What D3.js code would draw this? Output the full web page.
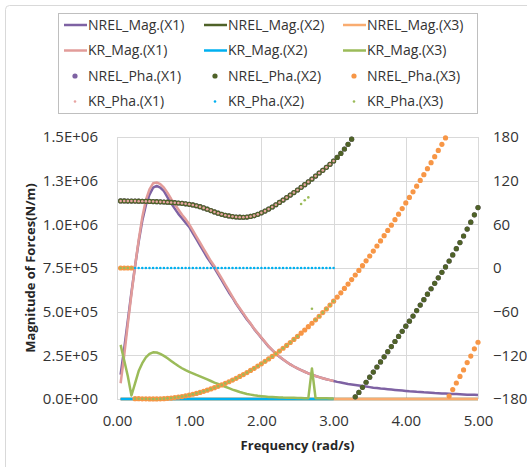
<!DOCTYPE html>
<html><head><meta charset="utf-8">
<script src="https://cdn.jsdelivr.net/npm/d3@7"></script>
<style>body{margin:0;background:#fff}svg{display:block;font-family:"Open Sans",sans-serif}</style>
</head><body><svg id="c" width="527" height="467"></svg>
<script>
// ---------- DATA ----------
const freq = [0.05,0.10,0.15,0.20,0.25,0.30,0.35,0.40,0.45,0.50,
0.55,0.60,0.65,0.70,0.75,0.80,0.85,0.90,0.95,1.00,
1.05,1.10,1.15,1.20,1.25,1.30,1.35,1.40,1.45,1.50,
1.55,1.60,1.65,1.70,1.75,1.80,1.85,1.90,1.95,2.00,
2.05,2.10,2.15,2.20,2.25,2.30,2.35,2.40,2.45,2.50,
2.55,2.60,2.65,2.70,2.75,2.80,2.85,2.90,2.95,3.00,
3.05,3.10,3.15,3.20,3.25,3.30,3.35,3.40,3.45,3.50,
3.55,3.60,3.65,3.70,3.75,3.80,3.85,3.90,3.95,4.00,
4.05,4.10,4.15,4.20,4.25,4.30,4.35,4.40,4.45,4.50,
4.55,4.60,4.65,4.70,4.75,4.80,4.85,4.90,4.95,5.00];

// magnitudes (N/m), left axis
const NREL_Mag_X1 = [1.4e5,2.9e5,4.5e5,6.1e5,7.6e5,9.0e5,10.2e5,11.1e5,11.7e5,12.1e5,
12.2e5,12.1e5,11.9e5,11.55e5,11.2e5,10.9e5,10.6e5,10.35e5,10.1e5,9.85e5,
9.5e5,9.15e5,8.8e5,8.45e5,8.1e5,7.8e5,7.5e5,7.15e5,6.8e5,6.45e5,
6.1e5,5.8e5,5.45e5,5.15e5,4.85e5,4.55e5,4.3e5,4.0e5,3.75e5,3.5e5,
3.25e5,3.0e5,2.8e5,2.6e5,2.42e5,2.26e5,2.12e5,1.98e5,1.86e5,1.75e5,
1.65e5,1.56e5,1.47e5,1.39e5,1.32e5,1.25e5,1.19e5,1.13e5,1.08e5,1.03e5,
0.98e5,0.94e5,0.90e5,0.86e5,0.83e5,0.80e5,0.77e5,0.74e5,0.71e5,0.68e5,
0.65e5,0.63e5,0.60e5,0.58e5,0.56e5,0.54e5,0.52e5,0.50e5,0.48e5,0.46e5,
0.44e5,0.43e5,0.41e5,0.40e5,0.38e5,0.37e5,0.36e5,0.34e5,0.33e5,0.32e5,
0.31e5,0.30e5,0.29e5,0.28e5,0.27e5,0.26e5,0.25e5,0.245e5,0.24e5,0.23e5];
const NREL_Mag_X2 = [0,0,0,0,0,0,0,0,0,0, 0,0,0,0,0,0,0,0,0,0, 0,0,0,0,0,0,0,0,0,0, 0,0,0,0,0,0,0,0,0,0, 0,0,0,0,0,0,0,0,0,0,
0,0,0,0,0,0,0,0,0,0, 0,0,0,0,0,0,0,0,0,0, 0,0,0,0,0,0,0,0,0,0, 0,0,0,0,0,0,0,0,0,0, 0,0,0,0,0,0,0,0,0,0];
const NREL_Mag_X3 = [0,0,0,0,0,0,0,0,0,0, 0,0,0,0,0,0,0,0,0,0, 0,0,0,0,0,0,0,0,0,0, 0,0,0,0,0,0,0,0,0,0, 0,0,0,0,0,0,0,0,0,0,
0,0,0,0,0,0,0,0,0,0, 0,0,0,0,0,0,0,0,0,0, 0,0,0,0,0,0,0,0,0,0, 0,0,0,0,0,0,0,0,0,0, 0,0,0,0,0,0,0,0,0,0];
const KR_Mag_X1 = [0.9e5,2.5e5,4.3e5,6.0e5,7.6e5,9.1e5,10.4e5,11.4e5,12.0e5,12.35e5,
12.4e5,12.3e5,12.1e5,11.8e5,11.45e5,11.15e5,10.85e5,10.55e5,10.3e5,10.0e5,
9.65e5,9.3e5,8.95e5,8.6e5,8.25e5,7.9e5,7.6e5,7.25e5,6.9e5,6.55e5,
6.2e5,5.85e5,5.5e5,5.2e5,4.9e5,4.6e5,4.32e5,4.02e5,3.77e5,3.52e5,
3.27e5,3.02e5,2.81e5,2.61e5,2.43e5,2.27e5,2.12e5,1.98e5,1.86e5,1.75e5,
1.65e5,1.56e5,1.47e5,1.39e5,1.32e5,1.25e5,1.19e5,1.13e5,1.08e5,1.03e5];
const KR_Mag_X2 = [0,0,0,0,0,0,0,0,0,0, 0,0,0,0,0,0,0,0,0,0, 0,0,0,0,0,0,0,0,0,0, 0,0,0,0,0,0,0,0,0,0, 0,0,0,0,0,0,0,0,0,0, 0,0,0,0,0,0,0,0,0,0];
const KR_Mag_X3 = [3.1e5,2.2e5,1.3e5,0.2e5,0.9e5,1.6e5,2.05e5,2.38e5,2.58e5,2.67e5,
2.66e5,2.58e5,2.47e5,2.33e5,2.18e5,2.03e5,1.89e5,1.76e5,1.65e5,1.55e5,
1.47e5,1.38e5,1.30e5,1.21e5,1.12e5,1.03e5,0.94e5,0.86e5,0.78e5,0.70e5,
0.62e5,0.54e5,0.47e5,0.40e5,0.34e5,0.29e5,0.25e5,0.21e5,0.18e5,0.16e5,
0.14e5,0.12e5,0.11e5,0.10e5,0.09e5,0.08e5,0.075e5,0.07e5,0.065e5,0.06e5,
0.055e5,0.05e5,0.05e5,1.75e5,0.05e5,0.045e5,0.04e5,0.04e5,0.035e5,0.035e5];

// phases (deg), right axis
const NREL_Pha_X2 = [92.1,92.1,92.0,92.0,91.9,91.8,91.7,91.6,91.5,91.3,
91.1,90.9,90.7,90.4,90.1,89.7,89.3,88.8,88.2,87.5,
86.6,85.5,84.2,82.6,80.8,78.9,77.0,75.3,73.8,72.5,
71.5,70.7,70.1,69.8,69.7,70.0,70.8,72.0,73.7,75.8,
78.2,80.9,83.8,86.9,90.1,93.4,96.8,100.2,103.7,107.2,
110.8,114.5,118.3,122.2,126.3,130.5,134.2,138.3,142.5,147.0,
152.0,157.5,163.5,170.0,177.0,-177.0,-171.0,-164.0,-157.0,-150.0,
-143,-136,-129,-122,-115,-108,-101,-94,-87,-80,
-73,-66,-58.5,-51,-43.5,-36,-28.5,-21,-13.5,-6,
1.5,9.5,18,26.5,35,44,53.5,63,73,83];
const NREL_Pha_X1 = [92.1,92.1,92.0,92.0,91.9,91.8,91.7,91.6,91.5,91.3,
91.1,90.9,90.7,90.4,90.1,89.7,89.3,88.8,88.2,87.5,
86.6,85.5,84.2,82.6,80.8,78.9,77.0,75.3,73.8,72.5,
71.5,70.7,70.1,69.8,69.7,70.0,70.8,72.0,73.7,75.8,
78.2,80.9,83.8,86.9,90.1,93.4,96.8,100.2,103.7,107.2,
110.8,114.5,118.3,122.2,126.3,130.5,134.2,138.3,142.5,147.0,
152.0,157.5,163.5,170.0,177.0,-177.0,-171.0,-164.0,-157.0,-150.0,
-143,-136,-129,-122,-115,-108,-101,-94,-87,-80,
-73,-66,-58.5,-51,-43.5,-36,-28.5,-21,-13.5,-6,
1.5,9.5,18,26.5,35,44,53.5,63,73,83];
const NREL_Pha_X3 = [0,0,0,0,-179.5,-179.6,-179.7,-179.8,-179.9,-179.9,
-179.9,-179.8,-179.5,-179.1,-178.7,-178.1,-177.4,-176.6,-175.6,-174.6,
-173.5,-172.3,-170.9,-169.5,-167.9,-166.2,-164.5,-162.6,-160.6,-158.5,
-156.3,-154.0,-151.6,-149.0,-146.4,-143.7,-140.8,-137.9,-134.8,-131.6,
-128.3,-125.0,-121.5,-117.9,-114.2,-110.3,-106.4,-102.4,-98.2,-94.0,
-89.6,-85.2,-80.6,-75.9,-71.2,-66.3,-61.3,-56.2,-50.9,-45.6,
-39.9,-34.1,-28.1,-22.1,-15.9,-9.6,-3.3,3.2,9.8,16.5,
23.3,30.2,37.2,44.4,51.6,58.9,66.4,73.9,81.6,89.4,
97.0,104.6,112.4,120.3,128.3,136.5,144.7,153.0,161.5,170.0,
178.7,-176,-167,-158,-149,-140,-130,-121,-111,-102];
const KR_Pha_X1 = [92.1,92.1,92.0,92.0,91.9,91.8,91.7,91.6,91.5,91.3,
91.1,90.9,90.7,90.4,90.1,89.7,89.3,88.8,88.2,87.5,
86.6,85.5,84.2,82.6,80.8,78.9,77.0,75.3,73.8,72.5,
71.5,70.7,70.1,69.8,69.7,70.0,70.8,72.0,73.7,75.8,
78.2,80.9,83.8,86.9,90.1,93.4,96.8,100.2,103.7,107.2,
110.8,114.5,118.3,122.2,126.3,130.5,134.2,138.3,142.5,147.0];
const KR_Pha_X2 = [null,null,null,null,0,0,0,0,0,0, 0,0,0,0,0,0,0,0,0,0, 0,0,0,0,0,0,0,0,0,0, 0,0,0,0,0,0,0,0,0,0, 0,0,0,0,0,0,0,0,0,0, 0,0,0,0,0,0,0,0,0,0];
const KR_Pha_X3 = [0,0,0,0,-179.5,-179.6,-179.7,-179.8,-179.9,-179.9,
-179.9,-179.8,-179.5,-179.1,-178.7,-178.1,-177.4,-176.6,-175.6,-174.6,
-173.5,-172.3,-170.9,-169.5,-167.9,-166.2,-164.5,-162.6,-160.6,-158.5,
-156.3,-154.0,-151.6,-149.0,-146.4,-143.7,-140.8,-137.9,-134.8,-131.6,
-128.3,-125.0,-121.5,-117.9,-114.2,-110.3,-106.4,-102.4,-98.2,-94.0,
88,93,97,-56,-71.2,-66.3,-61.3,-56.2,-50.9,-45.6];

const xTicks = [0,1,2,3,4,5];
const yLeftTicks = [0,2.5e5,5e5,7.5e5,1e6,1.25e6,1.5e6];
const yRightTicks = [-180,-120,-60,0,60,120,180];

// ---------- CHART ----------
const svg = d3.select("#c");
const x = d3.scaleLinear().domain([0,5]).range([117,478]);
const yL = d3.scaleLinear().domain([0,1.5e6]).range([399,137]);
const yR = d3.scaleLinear().domain([-180,180]).range([399,137]);

// outer frame
svg.append("rect").attr("x",5.5).attr("y",5.5).attr("width",540).attr("height",480)
  .attr("rx",4).attr("fill","#fff").attr("stroke","#d9d9d9");

// gridlines
const grid = svg.append("g").attr("stroke","#d9d9d9").attr("stroke-width",1);
yLeftTicks.forEach(t=>grid.append("line").attr("x1",117).attr("x2",478)
  .attr("y1",Math.round(yL(t))+0.5).attr("y2",Math.round(yL(t))+0.5));
xTicks.forEach(t=>grid.append("line").attr("y1",137).attr("y2",399)
  .attr("x1",Math.round(x(t))+0.5).attr("x2",Math.round(x(t))+0.5));

function sciFmt(v){
  if(v===0) return "0.0E+00";
  const e = Math.floor(Math.log10(v));
  const m = v/Math.pow(10,e);
  return m.toFixed(1)+"E+"+String(e).padStart(2,"0");
}
const tickStyle = g=>{g.select(".domain").remove();
  g.selectAll("text").attr("fill","#333").style("font-size","15px").style("font-family","'Open Sans',sans-serif");};
svg.append("g").attr("transform","translate(117,0)")
  .call(d3.axisLeft(yL).tickValues(yLeftTicks).tickFormat(sciFmt).tickSize(0).tickPadding(19)).call(tickStyle);
svg.append("g").attr("transform","translate(478,0)")
  .call(d3.axisRight(yR).tickValues(yRightTicks).tickFormat(d3.format("d")).tickSize(0).tickPadding(15)).call(tickStyle);
svg.append("g").attr("transform","translate(0,399)")
  .call(d3.axisBottom(x).tickValues(xTicks).tickFormat(d3.format(".2f")).tickSize(0).tickPadding(16)).call(tickStyle);

// axis titles
svg.append("text").attr("transform","translate(30,268) rotate(-90)").attr("text-anchor","middle")
  .attr("dy","0.35em").attr("fill","#262626").style("font-size","13px").style("font-weight","bold")
  .text("Magnitude of Forces(N/m)");
svg.append("text").attr("x",297.5).attr("y",445).attr("text-anchor","middle")
  .attr("dy","0.35em").attr("fill","#262626").style("font-size","13px").style("font-weight","bold")
  .text("Frequency (rad/s)");

// series definitions
const C = {purple:"#7E62A3", dgreen:"#4F6228", orange:"#F79646", orangeL:"#F9AC70",
           pink:"#E29C9A", blue:"#00B0F0", green:"#9BBB59"};
const lineSeries = [
  {name:"NREL_Mag.(X1)", data:NREL_Mag_X1, color:C.purple},
  {name:"NREL_Mag.(X2)", data:NREL_Mag_X2, color:C.dgreen},
  {name:"NREL_Mag.(X3)", data:NREL_Mag_X3, color:C.orangeL},
  {name:"KR_Mag.(X1)", data:KR_Mag_X1, color:C.pink},
  {name:"KR_Mag.(X2)", data:KR_Mag_X2, color:C.blue},
  {name:"KR_Mag.(X3)", data:KR_Mag_X3, color:C.green}
];
const dotSeries = [
  {name:"NREL_Pha.(X1)", data:NREL_Pha_X1, color:C.purple, r:2.6},
  {name:"NREL_Pha.(X2)", data:NREL_Pha_X2, color:C.dgreen, r:2.6},
  {name:"NREL_Pha.(X3)", data:NREL_Pha_X3, color:C.orange, r:2.6},
  {name:"KR_Pha.(X1)", data:KR_Pha_X1, color:"#E8A4A2", r:1.3},
  {name:"KR_Pha.(X2)", data:KR_Pha_X2, color:C.blue, r:1.3},
  {name:"KR_Pha.(X3)", data:KR_Pha_X3, color:C.green, r:1.3}
];

const lineGen = d3.line().defined(d=>d[1]!=null).x(d=>x(d[0])).y(d=>yL(d[1]));
lineSeries.forEach(s=>{
  const pts = s.data.map((v,i)=>[freq[i],v]);
  svg.append("path").attr("d",lineGen(pts)).attr("fill","none")
    .attr("stroke",s.color).attr("stroke-width",2.5).attr("stroke-linejoin","round");
});
dotSeries.forEach(s=>{
  const pts = s.data.map((v,i)=>[freq[i],v]).filter(d=>d[1]!=null);
  svg.append("g").selectAll("circle").data(pts).join("circle")
    .attr("cx",d=>x(d[0])).attr("cy",d=>yR(d[1])).attr("r",s.r).attr("fill",s.color);
});

// legend
const lg = svg.append("g");
lg.append("rect").attr("x",58.5).attr("y",13.5).attr("width",419).attr("height",100)
  .attr("fill","#fff").attr("stroke","#bfbfbf");
const colX = [64,204,343], rowY = [25,50.5,76,101.5];
const items = lineSeries.map(s=>({...s,type:"line"})).concat(dotSeries.map(s=>({...s,type:"dot"})));
items.forEach((it,i)=>{
  const cx = colX[i%3], cy = rowY[Math.floor(i/3)];
  if(it.type==="line"){
    lg.append("line").attr("x1",cx).attr("x2",cx+23).attr("y1",cy).attr("y2",cy)
      .attr("stroke",it.color).attr("stroke-width",2.5);
  } else {
    lg.append("circle").attr("cx",cx+11).attr("cy",cy).attr("r",it.r).attr("fill",it.color);
  }
  lg.append("text").attr("x",cx+24).attr("y",cy).attr("dy","0.35em")
    .attr("fill","#333").style("font-size","14px").text(it.name);
});
</script></body></html>
